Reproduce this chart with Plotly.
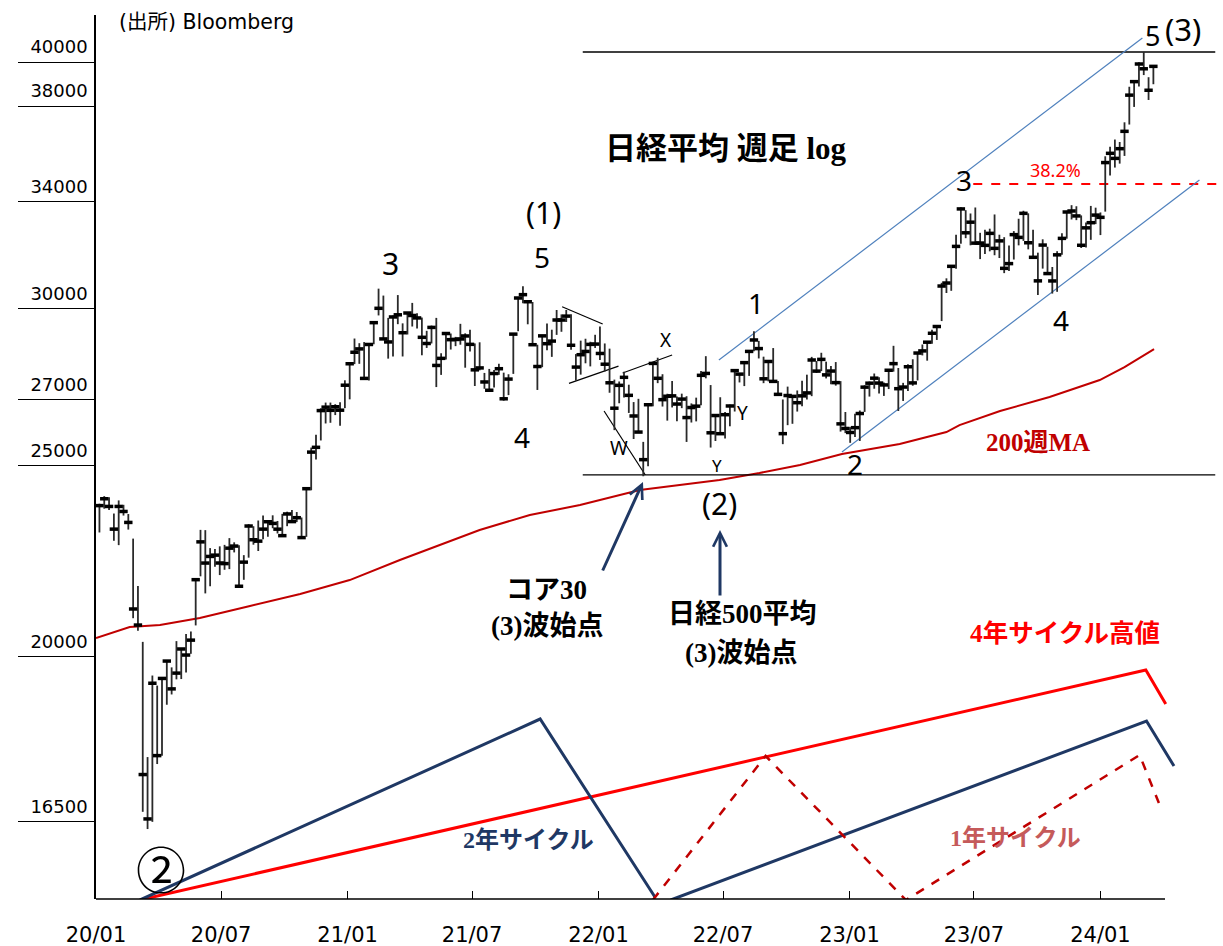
import numpy as np
import pandas as pd
import plotly.graph_objects as go

# ---------------- weekly Nikkei 225 bars (week starting Monday) ----------------
WEEK_START = "2020-01-06"

high_2020 = [23903, 24115, 24084, 23631, 23995, 23873, 23617, 22950, 21719, 20347, 17790, 19564, 19336,
             19500, 19922, 19751, 20365, 20180, 20534, 20595, 21916, 23185, 23178, 22697, 22673, 22744,
             22783, 22963, 22851, 22770, 22512, 23338, 23284, 23439, 23580, 23440, 23582, 23427, 23622,
             23681, 23725, 23672, 23522, 24325, 25520, 25906, 26716, 26894, 26894, 26843, 26905, 27602]
low_2020 = [23115, 23764, 23730, 22892, 22776, 23575, 23193, 20916, 20613, 16690, 16358, 16496, 17646,
            17819, 18909, 19137, 19477, 19484, 19631, 20066, 20741, 21963, 21530, 21710, 22210, 21995,
            22131, 22148, 22584, 21710, 21874, 22446, 22788, 22620, 22933, 23000, 23230, 23088, 23029,
            23285, 23389, 23397, 22948, 22998, 24280, 25169, 25732, 26247, 26268, 26505, 26177, 26721]
close_2020 = [23850, 24041, 23827, 23205, 23827, 23688, 23387, 21142, 20750, 17431, 16552, 19389, 17820,
              19498, 19897, 19262, 19619, 20179, 20037, 20388, 21877, 22863, 22305, 22478, 22512, 22306,
              22291, 22696, 22751, 21710, 22329, 23289, 22920, 22882, 23205, 23406, 23360, 23204, 23029,
              23619, 23410, 23516, 22977, 24325, 25385, 25527, 26644, 26751, 26652, 26763, 26656, 27444]

high_2021 = [28139, 28979, 28822, 28860, 28779, 29562, 30714, 30467, 29685, 29766, 30485, 29496, 29854,
             30208, 29849, 29697, 29241, 29420, 29685, 28486, 29194, 29149, 29035, 29480, 29155, 29278,
             28814, 28852, 27840, 27970, 27932, 28139, 27849, 27797, 29128, 30381, 30796, 30306, 30240,
             28771, 29068, 29490, 29279, 29960, 29806, 29960, 29808, 28459, 28908, 28972, 28870, 29106]
low_2021 = [26996, 28128, 28137, 27629, 27595, 28786, 29770, 28966, 28308, 28379, 29468, 28379, 29115,
            29388, 29323, 28419, 28663, 28812, 27385, 27776, 28276, 28609, 28723, 28771, 28010, 28546,
            27419, 27923, 27330, 27272, 27372, 27777, 26954, 27129, 27809, 29227, 30200, 29464, 28771,
            27293, 28028, 28588, 28366, 29103, 29208, 29542, 28605, 27588, 27785, 28154, 28053, 28662]
close_2021 = [28139, 28519, 28631, 27663, 28779, 29520, 30018, 28966, 28864, 29717, 29792, 29176, 29854,
              29768, 29683, 29020, 28812, 29357, 28084, 28317, 29149, 28941, 28948, 28964, 29066, 28783,
              27940, 28003, 27548, 27283, 27820, 27977, 27013, 27641, 29128, 30381, 30500, 30249, 28771,
              28049, 29069, 28805, 28893, 29612, 29610, 29746, 28752, 28030, 28438, 28546, 28782, 28792]

high_2022 = [29388, 28813, 28639, 27624, 27564, 27880, 27460, 26910, 27012, 25690, 26827, 28160, 28338,
             27798, 27172, 27580, 27082, 27175, 27094, 26868, 27049, 27900, 28389, 27449, 26524, 27062,
             26600, 26831, 27916, 27815, 28175, 28547, 29222, 28899, 28373, 28261, 28659, 27580, 26992,
             27399, 27090, 27276, 27587, 27783, 28366, 28228, 28502, 28208, 28062, 28195, 27576, 26600]
low_2022 = [28265, 27889, 27204, 26044, 26873, 27055, 26571, 25775, 25975, 24681, 24969, 26777, 27510,
            26770, 26334, 26742, 26317, 26720, 25688, 26276, 26311, 26808, 27665, 25520, 25716, 25936,
            25793, 26161, 26615, 27533, 27416, 27744, 28549, 28314, 27510, 27567, 27530, 27153, 25621,
            26195, 26237, 26614, 26783, 26991, 27096, 27838, 27899, 27662, 27476, 27431, 26000, 25953]
close_2022 = [28479, 28124, 27522, 26718, 27440, 27697, 27122, 26477, 25985, 25163, 26827, 28150, 27666,
              26986, 27093, 27105, 26848, 27004, 26428, 26739, 26782, 27762, 27824, 25963, 26491, 25936,
              26517, 26788, 27915, 27801, 28176, 28547, 28930, 28641, 27650, 28214, 27567, 27153, 25937,
              27116, 27090, 26890, 27105, 27199, 28263, 27899, 28283, 27777, 27901, 27527, 26235, 26094]

high_2023 = [26135, 26546, 26647, 27441, 27562, 27821, 27697, 27531, 27944, 28734, 28000, 27520, 28124,
             28287, 28515, 28778, 28879, 29278, 29426, 30924, 31086, 31560, 32708, 33772, 33657, 33527,
             33762, 32780, 32896, 32938, 33489, 32707, 32613, 32297, 32845, 33322, 33634, 33533, 32893,
             32030, 32533, 32250, 31500, 32085, 32768, 33631, 33853, 33811, 33452, 33172, 33824, 33755]
low_2023 = [25661, 25834, 25717, 26603, 27083, 27332, 27177, 27104, 27321, 27881, 26632, 26945, 27257,
            27427, 27597, 28414, 28241, 28800, 28931, 29575, 30558, 30637, 31439, 32366, 32575, 32306,
            32327, 31791, 31984, 32080, 31934, 31830, 31275, 31350, 31775, 32304, 32473, 32154, 31857,
            30487, 31440, 31211, 30538, 30601, 31948, 32556, 33294, 33268, 32205, 32219, 32513, 33114]
close_2023 = [25973, 26119, 26553, 27382, 27509, 27670, 27513, 27453, 27927, 28143, 27333, 27385, 28041,
              27518, 28493, 28564, 28856, 29157, 29388, 30808, 30916, 31524, 32265, 33706, 32781, 33189,
              32388, 32391, 32304, 32759, 32192, 32473, 31450, 31624, 32710, 32606, 33533, 32402, 31857,
              30994, 32315, 31259, 30991, 31949, 32568, 33585, 33625, 33431, 32307, 32970, 33169, 33464]

high_2024 = [33568, 35839, 36239, 36546, 36441, 37287, 38865, 39156, 39990, 40472, 39300, 39850]
low_2024 = [32693, 33600, 35040, 35371, 35534, 35854, 37190, 37962, 38876, 39398, 38271, 38980]
close_2024 = [33377, 35577, 35963, 35751, 36158, 36897, 38487, 39098, 39910, 39688, 38707, 39800]

# ---------------- 200-week moving average ----------------
ma_dates = ['2020-01-01', '2020-02-19', '2020-04-03', '2020-05-31', '2020-08-12', '2020-10-24',
            '2021-01-04', '2021-03-18', '2021-07-12', '2021-09-23', '2021-12-05', '2022-03-02',
            '2022-06-26', '2022-08-23', '2022-10-21', '2022-12-21', '2023-03-15', '2023-05-22',
            '2023-06-10', '2023-08-08', '2023-10-19', '2023-12-31', '2024-02-05', '2024-03-19']
ma_values = [20438, 20702, 20750, 20921, 21216, 21515, 21867, 22385, 23183, 23591, 23866, 24287,
             24571, 24773, 25008, 25327, 25627, 25987, 26198, 26631, 27068, 27610, 28031, 28626]

# ---------------- drawn lines (date, price) ----------------
top_line_dates = ['2021-12-09', '2024-06-16']
top_line_value = 40472
bottom_line_dates = ['2021-12-09', '2024-06-16']
bottom_line_value = 24720
fib_dates = ['2023-06-30', '2024-06-18']
fib_value = 34700

channel_upper_dates = ['2022-06-25', '2024-03-02']
channel_upper_values = [28262, 41138]
channel_lower_dates = ['2022-12-21', '2024-05-24']
channel_lower_values = [25389, 34861]

tri_upper_dates = ['2021-11-09', '2022-01-07']
tri_upper_values = [30075, 29476]
tri_lower_dates = ['2021-11-19', '2022-01-30']
tri_lower_values = [27505, 28063]
x_line_dates = ['2022-02-05', '2022-04-18']
x_line_values = [27837, 28427]
w_line_dates = ['2022-01-09', '2022-03-10']
w_line_values = [26631, 24716]

# cycle sketch lines (bottom area)
cycle4_dates = ['2020-03-05', '2024-03-07', '2024-04-05']
cycle4_values = [15060, 19690, 18925]
cycle2a_dates = ['2020-03-05', '2021-10-08', '2022-03-24']
cycle2a_values = [15060, 18597, 15113]
cycle2b_dates = ['2022-04-16', '2024-03-08', '2024-04-17']
cycle2b_values = [15060, 18553, 17604]
cycle1_dates = ['2022-03-21', '2022-09-01', '2023-03-24', '2024-02-27', '2024-03-26']
cycle1_values = [15060, 17812, 15060, 17832, 16861]

y_tick_values = [16500, 20000, 25000, 27000, 30000, 34000, 38000, 40000]
x_tick_dates = ['2020-01-01', '2020-07-01', '2021-01-01', '2021-07-01', '2022-01-01',
                '2022-07-01', '2023-01-01', '2023-07-01', '2024-01-01']

# ---------------- assemble ----------------
highs = high_2020 + high_2021 + high_2022 + high_2023 + high_2024
lows = low_2020 + low_2021 + low_2022 + low_2023 + low_2024
closes = close_2020 + close_2021 + close_2022 + close_2023 + close_2024
weeks = pd.date_range(WEEK_START, periods=len(closes), freq="7D")

W, H = 1223, 946
ML, MR, MT, MB = 96, 0, 15, 47
PW, PH = W - ML - MR, H - MT - MB
X0 = pd.Timestamp("2020-01-01")
X1 = X0 + pd.Timedelta(days=PW / 0.6875)
Y_RANGE = [np.log10(15077), np.log10(42256)]


def pp(x, y):
    return (x - ML) / PW, (H - MB - y) / PH


NAVY = '#1f3864'
RED = '#ff0000'
DARKRED = '#c00000'
BLUE = '#4f81bd'
JP = "Liberation Serif, Noto Sans CJK JP, serif"
SANS = "Noto Sans, DejaVu Sans, sans-serif"

fig = go.Figure()


def line(xs, ys, color, width, dash='solid'):
    fig.add_trace(go.Scatter(x=xs, y=ys, mode='lines', line=dict(color=color, width=width, dash=dash),
                             hoverinfo='skip', showlegend=False))


# MA
line(ma_dates, ma_values, DARKRED, 2)
# horizontal reference lines
line(top_line_dates, [top_line_value] * 2, 'black', 1.3)
line(bottom_line_dates, [bottom_line_value] * 2, 'black', 1.3)
line(fib_dates, [fib_value] * 2, RED, 2, 'dash')
# channel
line(channel_upper_dates, channel_upper_values, BLUE, 1.2)
line(channel_lower_dates, channel_lower_values, BLUE, 1.2)
# pattern lines
line(tri_upper_dates, tri_upper_values, 'black', 1.2)
line(tri_lower_dates, tri_lower_values, 'black', 1.2)
line(x_line_dates, x_line_values, 'black', 1.2)
line(w_line_dates, w_line_values, 'black', 1.2)
# cycles
line(cycle4_dates, cycle4_values, RED, 3)
line(cycle2a_dates, cycle2a_values, NAVY, 3)
line(cycle2b_dates, cycle2b_values, NAVY, 3)
line(cycle1_dates, cycle1_values, DARKRED, 2.5, 'dash')

# bars: high-low lines + close ticks
bx, by = [], []
for d, hi, lo in zip(weeks, highs, lows):
    bx += [d, d, None]
    by += [lo, hi, None]
fig.add_trace(go.Scatter(x=bx, y=by, mode='lines', line=dict(color='#2a2a2a', width=1.8),
                         hoverinfo='skip', showlegend=False))
fig.add_trace(go.Scatter(x=weeks, y=closes, mode='markers', showlegend=False,
                         marker=dict(symbol='line-ew', size=6, line=dict(width=3.5, color='black'))))

# ---------------- annotations ----------------
def text(t, x, y, size, color='black', family=SANS, xanchor='center'):
    ax_, ay_ = pp(x, y)
    fig.add_annotation(x=ax_, y=ay_, xref='paper', yref='paper', text=t, showarrow=False,
                       font=dict(size=size, color=color, family=family), xanchor=xanchor, yanchor='middle')


text("(出所) Bloomberg", 117, 22, 20.5, family="DejaVu Sans, Noto Sans CJK JP", xanchor='left')
text("<b>日経平均 週足 log</b>", 726, 148, 31, family=JP)

for t, x, y, s in [("3", 390, 263, 30), ("(1)", 543, 212, 30), ("5", 542, 257, 28), ("4", 522, 437, 28),
                   ("1", 756, 303, 28), ("X", 666, 340, 19), ("W", 619, 448, 19), ("Y", 742, 413, 19),
                   ("Y", 717, 466, 17), ("(2)", 719, 503, 30), ("2", 855, 464, 28), ("3", 964, 180, 28),
                   ("4", 1061, 320, 28), ("5", 1152, 35, 27), ("(3)", 1183, 29, 31)]:
    text(t, x, y, s)

text("38.2%", 1055, 170, 18, color=RED)
text("②", 161, 867, 50, family="Noto Sans CJK JP")

text("<b>コア30</b>", 546, 590, 27, family=JP)
text("<b>(3)波始点</b>", 547, 626, 27, family=JP)
text("<b>日経500平均</b>", 742, 614, 27, family=JP)
text("<b>(3)波始点</b>", 741, 653, 27, family=JP)
text("<b>200週MA</b>", 1038, 443, 25, color=DARKRED, family=JP)
text("<b>4年サイクル高値</b>", 1065, 633, 25.5, color=RED, family=JP)
text("<b>2年サイクル</b>", 528, 840, 24, color=NAVY, family=JP)
text("<b>1年サイクル</b>", 1015, 838, 24, color='#c55a5a', family=JP)

for (tx, ty), (sx, sy) in [((643, 482), (602, 572)), ((720, 530), (720, 597))]:
    ax_, ay_ = pp(tx, ty)
    fig.add_annotation(x=ax_, y=ay_, xref='paper', yref='paper', text='', showarrow=True,
                       ax=sx - tx, ay=sy - ty, arrowhead=5, arrowsize=0.9, arrowwidth=3,
                       arrowcolor=NAVY, standoff=0)

# x-axis base line (ends before right edge)
fig.add_shape(type='line', xref='paper', yref='paper', x0=0, x1=(1165 - ML) / PW, y0=0, y1=0,
              line=dict(color='black', width=1.5))

fig.update_layout(
    width=W, height=H, margin=dict(l=ML, r=MR, t=MT, b=MB),
    paper_bgcolor='white', plot_bgcolor='white', showlegend=False,
    xaxis=dict(type='date', range=[X0, X1], showgrid=False, zeroline=False, showline=False,
               tickvals=x_tick_dates, tickformat='%y/%m', ticks='inside', ticklen=8, tickwidth=1.3,
               tickcolor='black', tickfont=dict(family='DejaVu Sans', size=21, color='black'),
               ticklabelstandoff=21),
    yaxis=dict(type='log', range=Y_RANGE, showgrid=False, zeroline=False, showline=True,
               linecolor='black', linewidth=1.5, tickvals=y_tick_values,
               ticktext=[str(v) for v in y_tick_values], ticks='outside', ticklen=76, tickwidth=1.3,
               tickcolor='black', tickfont=dict(family='DejaVu Sans', size=18, color='black'),
               ticklabelstandoff=-73, ticklabelshift=-15),
)

fig.write_html("out.html", config={'displayModeBar': False},
               post_script="document.body.style.margin='0px';document.body.style.overflow='hidden';")
